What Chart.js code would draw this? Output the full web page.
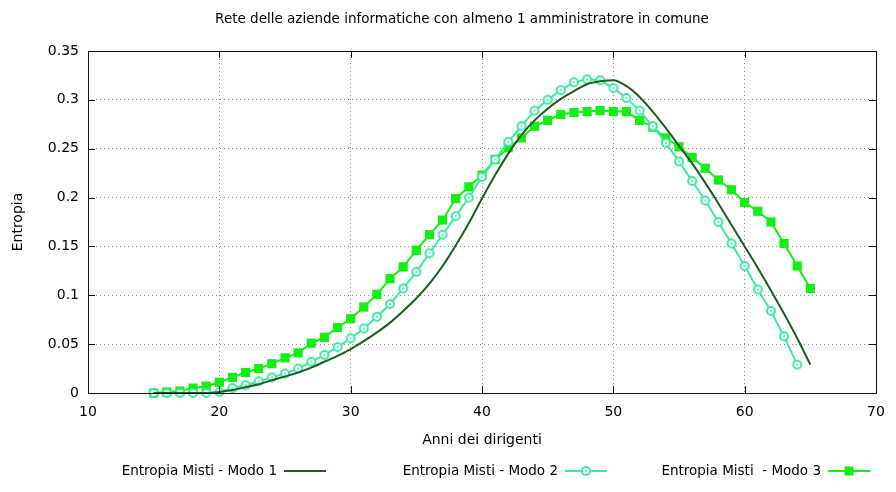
<!DOCTYPE html>
<html>
<head>
<meta charset="utf-8">
<script src="https://cdn.jsdelivr.net/npm/chart.js@4.4.1/dist/chart.umd.min.js"></script>
<style>
  html, body { margin: 0; padding: 0; background: #fff; }
  canvas { display: block; }
</style>
</head>
<body>
<canvas id="chart" width="896" height="492"></canvas>
<script>
// Anni dei dirigenti (asse x)
const years = [15, 16, 17, 18, 19, 20, 21, 22, 23, 24, 25, 26, 27, 28, 29, 30, 31, 32, 33, 34,
  35, 36, 37, 38, 39, 40, 41, 42, 43, 44, 45, 46, 47, 48, 49, 50, 51, 52, 53, 54,
  55, 56, 57, 58, 59, 60, 61, 62, 63, 64, 65];

// Entropia Misti - Modo 1 (15..65)
const modo1 = [0, 0, 0, 0, 0, 0.001, 0.003, 0.006, 0.009, 0.013,
  0.017, 0.021, 0.026, 0.032, 0.038, 0.045, 0.053, 0.062, 0.072, 0.084,
  0.097, 0.112, 0.130, 0.151, 0.174, 0.199, 0.223, 0.245, 0.264, 0.279,
  0.291, 0.301, 0.309, 0.316, 0.319, 0.320, 0.314, 0.303, 0.288, 0.271,
  0.253, 0.235, 0.215, 0.194, 0.172, 0.150, 0.128, 0.105, 0.081, 0.056,
  0.029];

// Entropia Misti - Modo 2 (15..64)
const modo2 = [0, 0, 0, 0, 0, 0.001, 0.005, 0.008, 0.012, 0.016,
  0.020, 0.025, 0.032, 0.039, 0.047, 0.056, 0.066, 0.078, 0.091, 0.107,
  0.124, 0.143, 0.162, 0.181, 0.200, 0.221, 0.239, 0.257, 0.273, 0.289,
  0.300, 0.310, 0.318, 0.321, 0.320, 0.312, 0.302, 0.289, 0.273, 0.256,
  0.237, 0.217, 0.197, 0.175, 0.153, 0.130, 0.106, 0.084, 0.058, 0.029];

// Entropia Misti - Modo 3 (15..65)
const modo3 = [0, 0.001, 0.002, 0.005, 0.007, 0.011, 0.016, 0.021, 0.025, 0.030,
  0.036, 0.041, 0.051, 0.057, 0.067, 0.076, 0.088, 0.101, 0.117, 0.129,
  0.146, 0.162, 0.177, 0.199, 0.211, 0.223, 0.239, 0.251, 0.261, 0.273,
  0.279, 0.285, 0.287, 0.288, 0.289, 0.288, 0.288, 0.279, 0.272, 0.261,
  0.252, 0.241, 0.230, 0.218, 0.208, 0.195, 0.186, 0.175, 0.153, 0.130,
  0.107];

const seriesLabels = ['Entropia Misti - Modo 1', 'Entropia Misti - Modo 2', 'Entropia Misti  - Modo 3'];
const xTicks = [10, 20, 30, 40, 50, 60, 70];
const yTicks = [0, 0.05, 0.1, 0.15, 0.2, 0.25, 0.3, 0.35];
const chartTitle = 'Rete delle aziende informatiche con almeno 1 amministratore in comune';

const FONT = 'DejaVu Sans';
const C1 = '#1d5c1d';
const C2 = '#3de8a4';
const C3 = '#14ee14';

const pts = (vals) => vals.map((v, i) => ({ x: years[i], y: v }));

// open circle with a dot in the middle, like the gnuplot marker
function ringMarker(color) {
  const c = document.createElement('canvas');
  c.width = 12; c.height = 12;
  const g = c.getContext('2d');
  g.fillStyle = '#fff';
  g.strokeStyle = color;
  g.lineWidth = 2;
  g.beginPath(); g.arc(6, 6, 4, 0, Math.PI * 2); g.fill(); g.stroke();
  g.fillStyle = color;
  g.beginPath(); g.arc(6, 6, 1, 0, Math.PI * 2); g.fill();
  return c;
}
const ring = ringMarker(C2);

// frame and inward ticks on all four sides
const frame = {
  id: 'frame',
  afterDatasetsDraw(chart) {
    const { ctx, chartArea: { left, right, top, bottom }, scales: { x, y } } = chart;
    ctx.save();
    ctx.strokeStyle = '#111';
    ctx.lineWidth = 1;
    ctx.beginPath();
    xTicks.forEach(v => {
      const px = Math.round(x.getPixelForValue(v)) + 0.5;
      ctx.moveTo(px, bottom); ctx.lineTo(px, bottom - 7);
      ctx.moveTo(px, top); ctx.lineTo(px, top + 7);
    });
    yTicks.forEach(v => {
      const py = Math.round(y.getPixelForValue(v)) + 0.5;
      ctx.moveTo(left, py); ctx.lineTo(left + 7, py);
      ctx.moveTo(right, py); ctx.lineTo(right - 7, py);
    });
    ctx.stroke();
    ctx.strokeRect(Math.round(left) + 0.5, Math.round(top) + 0.5, Math.round(right - left), Math.round(bottom - top));
    ctx.restore();
  }
};

// title (gnuplot puts it a bit left of the plot centre) and key: text first, then the sample
const keyStarts = [284, 565, 828];
const gnuKey = {
  id: 'gnuKey',
  afterDraw(chart) {
    const { ctx } = chart;
    ctx.save();
    ctx.fillStyle = '#000';
    ctx.textBaseline = 'middle';
    ctx.font = '13.5px "' + FONT + '"';
    ctx.textAlign = 'center';
    ctx.fillText(chartTitle, 462, 19);

    const yk = 471;
    ctx.textAlign = 'right';
    chart.data.datasets.forEach((ds, i) => {
      const sx = keyStarts[i];
      ctx.fillStyle = '#000';
      ctx.fillText(ds.label, sx - 7, yk);
      ctx.strokeStyle = ds.borderColor;
      ctx.lineWidth = 2;
      ctx.beginPath(); ctx.moveTo(sx, yk); ctx.lineTo(sx + 42, yk); ctx.stroke();
      const mx = sx + 21;
      if (i === 1) {
        ctx.drawImage(ring, mx - 6, yk - 6);
      } else if (i === 2) {
        ctx.fillStyle = ds.pointBackgroundColor;
        ctx.fillRect(mx - 4.5, yk - 4.5, 9, 9);
      }
    });
    ctx.restore();
  }
};

const gridDash = { display: false, dash: [1, 3] };

new Chart(document.getElementById('chart').getContext('2d'), {
  type: 'line',
  data: {
    datasets: [
      {
        label: seriesLabels[0],
        data: pts(modo1),
        borderColor: C1,
        borderWidth: 2,
        pointRadius: 0,
        cubicInterpolationMode: 'monotone',
        clip: false
      },
      {
        label: seriesLabels[1],
        data: pts(modo2),
        borderColor: C2,
        borderWidth: 2,
        pointStyle: ring,
        pointRadius: 5,
        clip: false
      },
      {
        label: seriesLabels[2],
        data: pts(modo3),
        borderColor: C3,
        backgroundColor: C3,
        pointBackgroundColor: C3,
        pointBorderColor: C3,
        borderWidth: 2,
        pointStyle: 'rect',
        pointRadius: 6.5,
        pointBorderWidth: 0,
        clip: false
      }
    ]
  },
  options: {
    responsive: false,
    animation: false,
    layout: { padding: { left: 0, right: 20, top: 51, bottom: 40 } },
    plugins: {
      legend: { display: false },
      tooltip: { enabled: false },
      title: { display: false }
    },
    scales: {
      x: {
        type: 'linear',
        min: xTicks[0],
        max: xTicks[xTicks.length - 1],
        ticks: { stepSize: 10, color: '#000', padding: 11, font: { family: FONT, size: 14 } },
        grid: { color: '#8c8c8c', lineWidth: 1, drawTicks: false },
        border: gridDash,
        title: {
          display: true,
          text: 'Anni dei dirigenti',
          color: '#000',
          font: { family: FONT, size: 14 },
          padding: { top: 0, bottom: 3.6 }
        },
        afterFit: (s) => { s.height = 59; }
      },
      y: {
        min: yTicks[0],
        max: yTicks[yTicks.length - 1],
        ticks: {
          stepSize: 0.05,
          color: '#000',
          padding: 9,
          font: { family: FONT, size: 14 },
          callback: (v) => String(+v.toFixed(2))
        },
        grid: { color: '#8c8c8c', lineWidth: 1, drawTicks: false },
        border: gridDash,
        title: {
          display: true,
          text: 'Entropia',
          color: '#000',
          font: { family: FONT, size: 14 },
          padding: { top: 10, bottom: 0 }
        },
        afterFit: (s) => { s.width = 88; }
      }
    }
  },
  plugins: [frame, gnuKey]
});
</script>
</body>
</html>
